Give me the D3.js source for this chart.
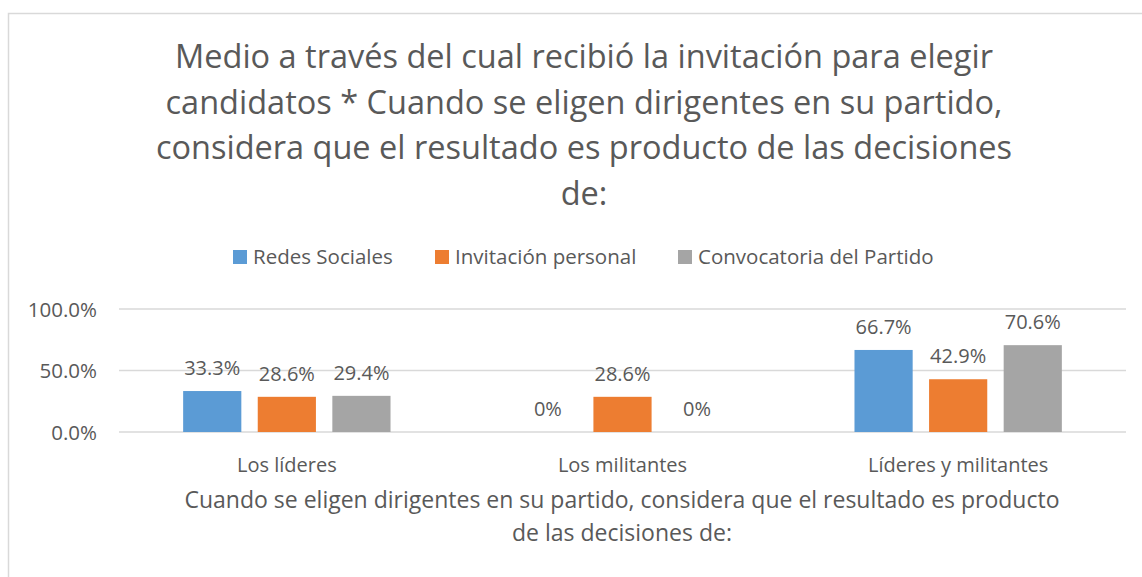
<!DOCTYPE html>
<html>
<head>
<meta charset="utf-8">
<script src="https://cdn.jsdelivr.net/npm/d3@7"></script>
<style>
  body { margin: 0; background: #fff; }
  svg text { font-family: "Open Sans", "Noto Sans", sans-serif; fill: #595959; }
</style>
</head>
<body>
<svg id="chart" width="1142" height="577"></svg>
<script>
// Data
const categories = ["Los líderes", "Los militantes", "Líderes y militantes"];
const seriesNames = ["Redes Sociales", "Invitación personal", "Convocatoria del Partido"];
const redes = [33.3, 0, 66.7];
const invitacion = [28.6, 28.6, 42.9];
const convocatoria = [29.4, 0, 70.6];
const yTicks = [0, 50, 100];
const titleLines = [
    "Medio a través del cual recibió la invitación para elegir",
    "candidatos * Cuando se eligen dirigentes en su partido,",
    "considera que el resultado es producto de las decisiones",
    "de:"
];
const axisTitleLines = [
    "Cuando se eligen dirigentes en su partido, considera que el resultado es producto",
    "de las decisiones de:"
];

// Display settings
const colors = ["#5B9BD5", "#ED7D31", "#A5A5A5"];
const plot = {left: 119, right: 1126, top: 309, bottom: 432};

const svg = d3.select("#chart");

// Chart border
svg.append("path")
    .attr("d", "M8.5,577 L8.5,13.5 L1142,13.5")
    .attr("fill", "none")
    .attr("stroke", "#d9d9d9")
    .attr("stroke-width", 1.5);

// Title
svg.append("g").selectAll("text")
    .data(titleLines)
    .enter().append("text")
    .attr("x", 584)
    .attr("y", (d, i) => 68 + i * 45.5)
    .attr("text-anchor", "middle")
    .style("font-size", "32.5px")
    .text(d => d);

// Scales
const x0 = d3.scaleBand().domain(categories).range([plot.left, plot.right]);
const x1 = d3.scaleBand().domain(seriesNames).range([0, x0.bandwidth()])
    .paddingInner(0.22).paddingOuter(0.86);
const y = d3.scaleLinear().domain([0, 100]).range([plot.bottom, plot.top]);

// Gridlines
svg.append("g").selectAll("line")
    .data(yTicks)
    .enter().append("line")
    .attr("x1", plot.left)
    .attr("x2", plot.right)
    .attr("y1", d => y(d))
    .attr("y2", d => y(d))
    .attr("stroke", "#d9d9d9")
    .attr("stroke-width", 1.5);

// Y axis labels
const yAxis = svg.append("g")
    .attr("transform", `translate(${plot.left - 22},0)`)
    .call(d3.axisLeft(y).tickValues(yTicks).tickSize(0).tickPadding(0)
        .tickFormat(d => d.toFixed(1) + "%"));
yAxis.select(".domain").remove();
yAxis.selectAll("text")
    .attr("dy", "0.35em")
    .style("font-size", "20.5px")
    .style("font-family", null);

// Bars
const seriesData = [redes, invitacion, convocatoria];
const groups = svg.append("g").selectAll("g")
    .data(categories)
    .enter().append("g")
    .attr("transform", d => `translate(${x0(d)},0)`);

groups.selectAll("rect")
    .data((c, ci) => seriesNames.map((s, si) => ({s: s, si: si, v: seriesData[si][ci]})))
    .enter().append("rect")
    .attr("x", d => x1(d.s))
    .attr("y", d => y(d.v))
    .attr("width", x1.bandwidth())
    .attr("height", d => y(0) - y(d.v))
    .attr("fill", d => colors[d.si]);

groups.selectAll("text")
    .data((c, ci) => seriesNames.map((s, si) => ({s: s, si: si, v: seriesData[si][ci]})))
    .enter().append("text")
    .attr("x", d => x1(d.s) + x1.bandwidth() / 2)
    .attr("y", d => y(d.v) - 23)
    .attr("dy", "0.35em")
    .attr("text-anchor", "middle")
    .style("font-size", "20px")
    .text(d => d.v === 0 ? "0%" : d.v.toFixed(1) + "%");

// Category labels
const xAxis = svg.append("g")
    .attr("transform", `translate(0,${plot.bottom})`)
    .call(d3.axisBottom(x0).tickSize(0).tickPadding(0));
xAxis.select(".domain").remove();
xAxis.selectAll("text")
    .attr("y", 40)
    .attr("dy", 0)
    .style("font-size", "20px")
    .style("font-family", null);

// Axis title
svg.append("g").selectAll("text")
    .data(axisTitleLines)
    .enter().append("text")
    .attr("x", 622)
    .attr("y", (d, i) => 508 + i * 33)
    .attr("text-anchor", "middle")
    .style("font-size", "23px")
    .text(d => d);

// Legend
const legendX = [233, 435, 678];
const legend = svg.append("g").selectAll("g")
    .data(seriesNames)
    .enter().append("g")
    .attr("transform", (d, i) => `translate(${legendX[i]},250)`);
legend.append("rect")
    .attr("width", 14)
    .attr("height", 14)
    .attr("fill", (d, i) => colors[i]);
legend.append("text")
    .attr("x", 20)
    .attr("y", 14)
    .style("font-size", "20.5px")
    .text(d => d);
</script>
</body>
</html>
